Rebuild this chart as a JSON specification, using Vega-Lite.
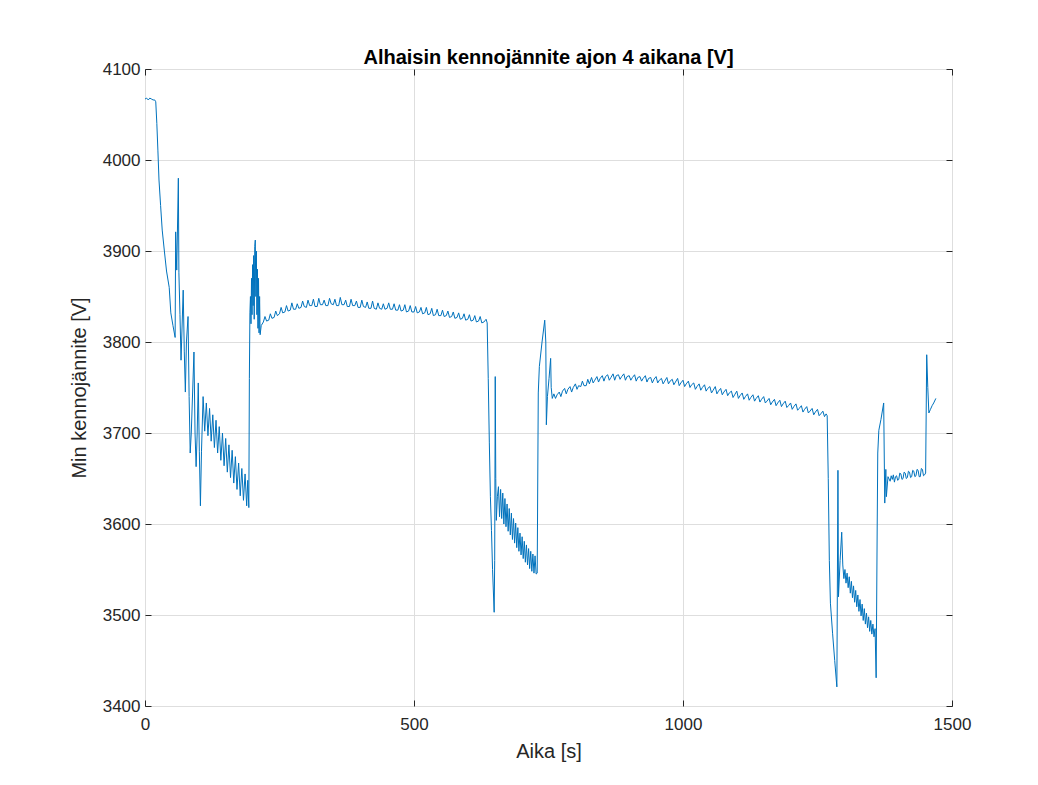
{
  "$schema": "https://vega.github.io/schema/vega-lite/v6.json",
  "width": 807,
  "height": 637,
  "autosize": "none",
  "padding": {"left": 145, "top": 69, "right": 86, "bottom": 79},
  "background": "white",
  "config": {
    "font": "Liberation Sans",
    "view": {"stroke": "#262626", "strokeWidth": 1}
  },
  "title": {"text": "Alhaisin kennojännite ajon 4 aikana [V]", "fontSize": 20, "font": "Liberation Sans", "fontWeight": "bold", "color": "#000000", "offset": -8, "anchor": "middle"},
  "data": {"values": [
    {"t":0,"v":4067},{"t":3,"v":4068},{"t":6,"v":4066},{"t":9,"v":4068},{"t":12,"v":4067},{"t":15,"v":4066},{"t":18,"v":4066},{"t":20,"v":4064},{"t":22,"v":4040},{"t":24,"v":4010},{"t":26,"v":3978},{"t":29,"v":3950},{"t":32,"v":3923},{"t":36,"v":3900},{"t":40,"v":3878},{"t":45,"v":3860},{"t":48,"v":3832},{"t":52,"v":3818},{"t":56,"v":3805},
    {"t":57,"v":3921},{"t":59,"v":3879},{"t":62,"v":3980},{"t":63,"v":3876},{"t":65,"v":3830},{"t":67,"v":3780},{"t":71,"v":3857},{"t":73,"v":3790},{"t":75,"v":3745},{"t":77,"v":3800},{"t":80,"v":3828},{"t":82,"v":3740},{"t":84,"v":3678},{"t":86,"v":3700},{"t":91,"v":3789},{"t":93,"v":3700},{"t":95,"v":3663},{"t":97,"v":3700},{"t":99,"v":3755},{"t":101,"v":3680},{"t":103,"v":3620},{"t":105,"v":3680},
    {"t":108,"v":3740},{"t":111,"v":3702},{"t":114,"v":3733},{"t":117,"v":3697},{"t":120,"v":3727},{"t":123,"v":3691},{"t":126,"v":3720},{"t":129,"v":3684},{"t":132,"v":3714},{"t":135,"v":3678},{"t":138,"v":3707},{"t":141,"v":3670},{"t":144,"v":3700},{"t":147,"v":3664},{"t":150,"v":3694},{"t":153,"v":3657},{"t":156,"v":3687},{"t":159,"v":3651},{"t":162,"v":3681},{"t":165,"v":3645},{"t":168,"v":3674},{"t":171,"v":3638},{"t":174,"v":3667},{"t":177,"v":3631},{"t":180,"v":3661},{"t":183,"v":3626},{"t":186,"v":3655},{"t":189,"v":3620},{"t":191,"v":3648},{"t":193,"v":3618},
    {"t":194,"v":3760},{"t":195,"v":3832},{"t":196,"v":3850},{"t":197,"v":3820},{"t":198,"v":3870},{"t":199,"v":3830},{"t":200,"v":3885},{"t":201,"v":3840},{"t":202,"v":3895},{"t":203,"v":3825},{"t":204,"v":3905},{"t":205,"v":3912},{"t":206,"v":3850},{"t":207,"v":3900},{"t":208,"v":3830},{"t":209,"v":3880},{"t":210,"v":3815},{"t":211,"v":3870},{"t":212,"v":3810},{"t":213,"v":3850},{"t":214,"v":3808},{"t":216,"v":3818},
    {"t":220,"v":3822},{"t":223,"v":3828},{"t":226,"v":3823},{"t":230,"v":3824},{"t":233,"v":3831},{"t":236,"v":3826},{"t":240,"v":3827},{"t":243,"v":3834},{"t":246,"v":3829},{"t":250,"v":3831},{"t":253,"v":3838},{"t":256,"v":3832},{"t":260,"v":3833},{"t":263,"v":3840},{"t":266,"v":3834},{"t":270,"v":3835},{"t":273,"v":3843},{"t":276,"v":3836},{"t":280,"v":3836},{"t":283,"v":3842},{"t":286,"v":3837},{"t":290,"v":3838},{"t":293,"v":3845},{"t":296,"v":3839},{"t":300,"v":3838},{"t":303,"v":3846},{"t":306,"v":3840},{"t":310,"v":3840},{"t":313,"v":3847},{"t":316,"v":3839},{"t":320,"v":3839},{"t":323,"v":3848},{"t":326,"v":3841},{"t":330,"v":3841},{"t":333,"v":3846},{"t":336,"v":3840},{"t":340,"v":3840},{"t":343,"v":3848},{"t":346,"v":3842},{"t":350,"v":3841},{"t":353,"v":3847},{"t":356,"v":3840},{"t":360,"v":3840},{"t":363,"v":3849},{"t":366,"v":3841},{"t":370,"v":3841},{"t":373,"v":3846},{"t":376,"v":3839},{"t":380,"v":3839},{"t":383,"v":3847},{"t":386,"v":3840},{"t":390,"v":3840},{"t":393,"v":3845},{"t":396,"v":3838},{"t":400,"v":3838},{"t":403,"v":3846},{"t":406,"v":3839},{"t":410,"v":3838},{"t":413,"v":3844},{"t":416,"v":3837},{"t":420,"v":3837},{"t":423,"v":3845},{"t":426,"v":3837},{"t":430,"v":3836},{"t":433,"v":3843},{"t":436,"v":3837},{"t":440,"v":3836},{"t":443,"v":3842},{"t":446,"v":3836},
    {"t":450,"v":3837},{"t":453,"v":3843},{"t":456,"v":3836},{"t":460,"v":3836},{"t":463,"v":3842},{"t":466,"v":3835},{"t":470,"v":3835},{"t":473,"v":3841},{"t":476,"v":3834},{"t":480,"v":3835},{"t":483,"v":3841},{"t":486,"v":3833},{"t":490,"v":3834},{"t":493,"v":3840},{"t":496,"v":3833},{"t":500,"v":3833},{"t":503,"v":3839},{"t":506,"v":3832},{"t":510,"v":3833},{"t":513,"v":3838},{"t":516,"v":3831},{"t":520,"v":3832},{"t":523,"v":3838},{"t":526,"v":3830},{"t":530,"v":3831},{"t":533,"v":3837},{"t":536,"v":3829},{"t":540,"v":3830},{"t":543,"v":3836},{"t":546,"v":3829},{"t":550,"v":3829},{"t":553,"v":3835},{"t":556,"v":3828},{"t":560,"v":3829},{"t":563,"v":3834},{"t":566,"v":3827},{"t":570,"v":3828},{"t":573,"v":3833},{"t":576,"v":3826},{"t":580,"v":3827},{"t":583,"v":3832},{"t":586,"v":3825},{"t":590,"v":3826},{"t":593,"v":3831},{"t":596,"v":3824},{"t":600,"v":3825},{"t":603,"v":3830},{"t":606,"v":3823},{"t":610,"v":3824},{"t":613,"v":3829},{"t":616,"v":3822},{"t":620,"v":3823},{"t":623,"v":3828},{"t":626,"v":3821},{"t":630,"v":3822},{"t":634,"v":3825},{"t":636,"v":3821},
    {"t":638,"v":3760},{"t":640,"v":3690},{"t":642,"v":3630},{"t":644,"v":3593},{"t":646,"v":3550},{"t":649,"v":3503},{"t":650,"v":3560},{"t":651,"v":3762},{"t":652,"v":3650},{"t":653,"v":3604},{"t":655,"v":3630},
    {"t":657,"v":3641},{"t":659,"v":3608},{"t":661,"v":3638},{"t":663,"v":3606},{"t":665,"v":3634},{"t":667,"v":3600},{"t":669,"v":3628},{"t":671,"v":3597},{"t":673,"v":3622},{"t":675,"v":3592},{"t":677,"v":3617},{"t":679,"v":3588},{"t":681,"v":3612},{"t":683,"v":3583},{"t":685,"v":3606},{"t":687,"v":3579},{"t":689,"v":3601},{"t":691,"v":3574},{"t":693,"v":3596},{"t":695,"v":3570},{"t":697,"v":3590},{"t":699,"v":3566},{"t":701,"v":3586},{"t":703,"v":3562},{"t":705,"v":3581},{"t":707,"v":3558},{"t":709,"v":3577},{"t":711,"v":3555},{"t":713,"v":3573},{"t":715,"v":3551},{"t":717,"v":3570},{"t":719,"v":3548},{"t":721,"v":3567},{"t":723,"v":3546},{"t":725,"v":3565},{"t":727,"v":3545},{"t":729,"v":3546},
    {"t":731,"v":3744},{"t":733,"v":3773},{"t":738,"v":3800},{"t":743,"v":3824},{"t":745,"v":3800},{"t":746,"v":3709},{"t":748,"v":3740},{"t":751,"v":3760},{"t":754,"v":3782},{"t":755,"v":3750},{"t":757,"v":3738},
    {"t":760,"v":3743},{"t":763,"v":3738},{"t":766,"v":3742},{"t":770,"v":3745},{"t":773,"v":3740},{"t":776,"v":3746},{"t":780,"v":3749},{"t":783,"v":3743},{"t":786,"v":3748},{"t":790,"v":3751},{"t":793,"v":3745},{"t":796,"v":3750},{"t":800,"v":3754},{"t":803,"v":3748},{"t":806,"v":3752},{"t":810,"v":3751},{"t":813,"v":3757},{"t":816,"v":3752},{"t":820,"v":3752},{"t":823,"v":3759},{"t":826,"v":3754},{"t":830,"v":3761},{"t":833,"v":3755},{"t":836,"v":3758},{"t":840,"v":3762},{"t":843,"v":3756},{"t":846,"v":3760},{"t":850,"v":3763},{"t":853,"v":3757},{"t":856,"v":3762},{"t":860,"v":3764},{"t":863,"v":3758},{"t":866,"v":3761},{"t":870,"v":3765},{"t":873,"v":3758},{"t":876,"v":3763},{"t":880,"v":3764},{"t":883,"v":3759},{"t":886,"v":3762},{"t":890,"v":3765},{"t":893,"v":3758},{"t":896,"v":3762},{"t":900,"v":3763},{"t":903,"v":3758},{"t":906,"v":3761},{"t":910,"v":3764},{"t":913,"v":3757},{"t":916,"v":3761},{"t":920,"v":3762},{"t":923,"v":3757},{"t":926,"v":3760},{"t":930,"v":3763},{"t":933,"v":3756},{"t":936,"v":3760},{"t":940,"v":3761},{"t":943,"v":3755},{"t":946,"v":3759},{"t":950,"v":3762},{"t":953,"v":3755},{"t":956,"v":3758},{"t":960,"v":3760},{"t":963,"v":3754},{"t":966,"v":3757},{"t":970,"v":3761},{"t":973,"v":3754},{"t":976,"v":3757},{"t":980,"v":3759},{"t":983,"v":3753},{"t":986,"v":3756},{"t":990,"v":3760},{"t":993,"v":3752},{"t":996,"v":3755},{"t":1000,"v":3758},{"t":1003,"v":3751},{"t":1006,"v":3754},{"t":1010,"v":3757},{"t":1013,"v":3750},{"t":1016,"v":3753},{"t":1020,"v":3755},{"t":1023,"v":3748},{"t":1026,"v":3751},{"t":1030,"v":3754},{"t":1033,"v":3747},{"t":1036,"v":3750},{"t":1040,"v":3753},{"t":1043,"v":3746},{"t":1046,"v":3749},{"t":1050,"v":3751},{"t":1053,"v":3744},{"t":1056,"v":3747},{"t":1060,"v":3751},{"t":1063,"v":3743},{"t":1066,"v":3746},{"t":1070,"v":3749},{"t":1073,"v":3742},{"t":1076,"v":3745},{"t":1080,"v":3748},{"t":1083,"v":3741},{"t":1086,"v":3744},{"t":1090,"v":3746},{"t":1093,"v":3739},{"t":1096,"v":3742},{"t":1100,"v":3746},{"t":1103,"v":3738},{"t":1106,"v":3741},{"t":1110,"v":3744},{"t":1113,"v":3737},{"t":1116,"v":3740},{"t":1120,"v":3743},{"t":1123,"v":3736},{"t":1126,"v":3739},{"t":1130,"v":3742},{"t":1133,"v":3735},{"t":1136,"v":3738},{"t":1140,"v":3741},{"t":1143,"v":3734},{"t":1146,"v":3737},{"t":1150,"v":3740},{"t":1153,"v":3733},{"t":1156,"v":3735},{"t":1160,"v":3738},{"t":1163,"v":3731},{"t":1166,"v":3734},{"t":1170,"v":3737},{"t":1173,"v":3730},{"t":1176,"v":3733},{"t":1180,"v":3736},{"t":1183,"v":3729},{"t":1186,"v":3732},{"t":1190,"v":3735},{"t":1193,"v":3728},{"t":1196,"v":3730},{"t":1200,"v":3733},{"t":1203,"v":3726},{"t":1206,"v":3729},{"t":1210,"v":3732},{"t":1213,"v":3725},{"t":1216,"v":3727},{"t":1220,"v":3730},{"t":1223,"v":3723},{"t":1226,"v":3726},{"t":1230,"v":3729},{"t":1233,"v":3722},{"t":1236,"v":3724},{"t":1240,"v":3727},{"t":1243,"v":3720},{"t":1246,"v":3723},{"t":1250,"v":3726},{"t":1253,"v":3719},{"t":1256,"v":3721},{"t":1260,"v":3724},{"t":1263,"v":3718},{"t":1266,"v":3721},{"t":1268,"v":3719},
    {"t":1270,"v":3650},{"t":1272,"v":3560},{"t":1274,"v":3513},{"t":1278,"v":3480},{"t":1282,"v":3450},{"t":1286,"v":3421},{"t":1288,"v":3659},{"t":1289,"v":3520},{"t":1292,"v":3560},{"t":1295,"v":3591},
    {"t":1297,"v":3555},{"t":1299,"v":3540},{"t":1301,"v":3550},{"t":1303,"v":3535},{"t":1305,"v":3546},{"t":1307,"v":3530},{"t":1309,"v":3542},{"t":1311,"v":3524},{"t":1313,"v":3537},{"t":1315,"v":3519},{"t":1317,"v":3532},{"t":1319,"v":3514},{"t":1321,"v":3527},{"t":1323,"v":3509},{"t":1325,"v":3522},{"t":1327,"v":3504},{"t":1329,"v":3517},{"t":1331,"v":3499},{"t":1333,"v":3512},{"t":1335,"v":3494},{"t":1337,"v":3507},{"t":1339,"v":3490},{"t":1341,"v":3502},{"t":1343,"v":3486},{"t":1345,"v":3498},{"t":1347,"v":3482},{"t":1349,"v":3494},{"t":1351,"v":3479},{"t":1353,"v":3490},{"t":1355,"v":3476},{"t":1357,"v":3485},{"t":1359,"v":3431},
    {"t":1361,"v":3600},{"t":1362,"v":3678},{"t":1364,"v":3703},{"t":1368,"v":3715},{"t":1373,"v":3733},{"t":1375,"v":3623},{"t":1377,"v":3660},{"t":1378,"v":3630},{"t":1381,"v":3652},
    {"t":1385,"v":3647},{"t":1387,"v":3653},{"t":1389,"v":3649},{"t":1391,"v":3654},{"t":1393,"v":3646},{"t":1395,"v":3652},{"t":1397,"v":3653},{"t":1399,"v":3648},{"t":1401,"v":3649},{"t":1403,"v":3656},{"t":1405,"v":3655},{"t":1407,"v":3649},{"t":1409,"v":3650},{"t":1411,"v":3657},{"t":1413,"v":3656},{"t":1415,"v":3650},{"t":1417,"v":3651},{"t":1419,"v":3658},{"t":1421,"v":3657},{"t":1423,"v":3651},{"t":1425,"v":3652},{"t":1427,"v":3659},{"t":1429,"v":3658},{"t":1431,"v":3652},{"t":1433,"v":3653},{"t":1435,"v":3660},{"t":1437,"v":3659},{"t":1439,"v":3652},{"t":1441,"v":3652},{"t":1443,"v":3661},{"t":1445,"v":3660},{"t":1447,"v":3653},{"t":1449,"v":3654},{"t":1451,"v":3656},
    {"t":1453,"v":3786},{"t":1455,"v":3750},{"t":1457,"v":3722},{"t":1460,"v":3726},{"t":1463,"v":3730},{"t":1466,"v":3733},{"t":1470,"v":3738}
  ]},
  "layer": [
    {
      "mark": {"type": "line", "color": "#0072BD", "strokeWidth": 1, "clip": true},
      "encoding": {
        "x": {"field": "t", "type": "quantitative", "scale": {"domain": [0, 1500], "nice": false, "zero": false},
          "axis": {"orient": "bottom", "values": [0, 500, 1000, 1500], "format": "d", "title": "Aika [s]", "titleFontSize": 20, "titleFontWeight": "normal", "titleColor": "#262626", "titleFont": "Liberation Sans", "labelFont": "Liberation Sans", "labelFontSize": 17, "labelColor": "#262626", "tickColor": "#262626", "tickSize": -6, "labelPadding": 16, "grid": true, "gridColor": "#dedede", "domain": false, "titlePadding": 9, "labelFlush": false}},
        "y": {"field": "v", "type": "quantitative", "scale": {"domain": [3400, 4100], "nice": false, "zero": false},
          "axis": {"orient": "left", "values": [3400, 3500, 3600, 3700, 3800, 3900, 4000, 4100], "format": "d", "title": "Min kennojännite [V]", "titleFontSize": 20, "titleFontWeight": "normal", "titleColor": "#262626", "titleFont": "Liberation Sans", "labelFont": "Liberation Sans", "labelFontSize": 17, "labelColor": "#262626", "tickColor": "#262626", "tickSize": -6, "labelPadding": 11, "grid": true, "gridColor": "#dedede", "domain": false, "titlePadding": 13, "labelFlush": false}}
      }
    },
    {
      "mark": {"type": "line", "opacity": 0},
      "encoding": {
        "x": {"field": "t", "type": "quantitative", "scale": {"domain": [0, 1500], "nice": false, "zero": false},
          "axis": {"orient": "top", "values": [0, 500, 1000, 1500], "title": null, "labels": false, "grid": false, "domain": false, "tickColor": "#262626", "tickSize": -6}},
        "y": {"field": "v", "type": "quantitative", "scale": {"domain": [3400, 4100], "nice": false, "zero": false},
          "axis": {"orient": "right", "values": [3400, 3500, 3600, 3700, 3800, 3900, 4000, 4100], "title": null, "labels": false, "grid": false, "domain": false, "tickColor": "#262626", "tickSize": -6}}
      }
    }
  ],
  "resolve": {"axis": {"x": "independent", "y": "independent"}}
}
